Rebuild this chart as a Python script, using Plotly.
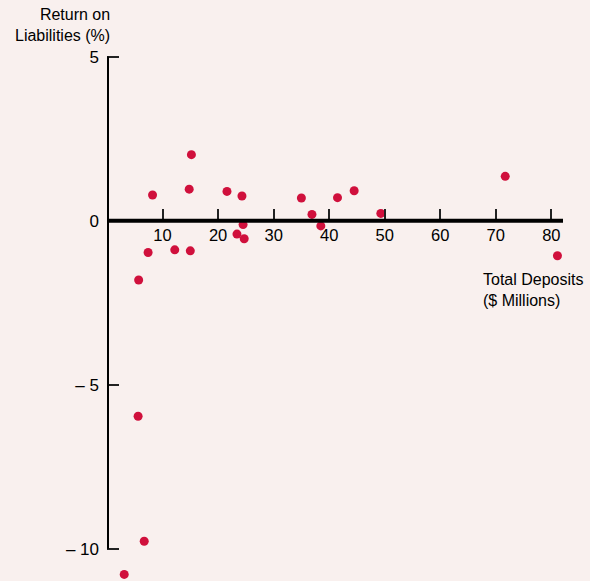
import plotly.graph_objects as go

# ---- data ----
deposits = [8.2, 24.3, 35.0, 41.5, 36.9, 38.5, 24.5, 23.4, 24.7, 7.4, 12.2, 15.0,
            5.7, 15.2, 14.8, 21.6, 44.5, 49.3, 71.7, 81.1, 5.6, 6.7, 3.1]
returns = [0.78, 0.75, 0.69, 0.70, 0.19, -0.16, -0.12, -0.41, -0.55, -0.97, -0.89, -0.92,
           -1.81, 2.01, 0.96, 0.89, 0.91, 0.22, 1.35, -1.07, -5.96, -9.77, -10.78]

x_ticks = [10, 20, 30, 40, 50, 60, 70, 80]
x_ticklabels = [str(v) for v in x_ticks]
y_ticks = [5, 0, -5, -10]
y_ticklabels = ["5", "0", "\u2013 5", "\u2013 10"]

x_title = "Total Deposits<br>($ Millions)"
y_title = "Return on<br>Liabilities (%)"

# ---- layout geometry ----
W, H = 590, 581
ML, MR, MT, MB = 107, 27, 50, 1
PW, PH = W - ML - MR, H - MT - MB
X_RANGE = [0, 82.1]
Y_RANGE = [-10.95, 5.2]

BG = "#f9f0ee"
RED = "#d0103c"
FONT = "Liberation Sans, Arial, Helvetica, sans-serif"


def paper_x(px):
    return (px - ML) / PW


def paper_y(py):
    return (H - MB - py) / PH


zero_pos = (0 - Y_RANGE[0]) / (Y_RANGE[1] - Y_RANGE[0])

fig = go.Figure()
fig.add_trace(go.Scatter(
    x=deposits, y=returns, mode="markers",
    marker=dict(size=9, color=RED, line=dict(width=0)),
    cliponaxis=False, hoverinfo="x+y",
))

# axis lines
fig.add_shape(type="line", xref="x", yref="y", x0=0, x1=0,
              y0=min(y_ticks), y1=max(y_ticks), line=dict(color="black", width=4))
fig.add_shape(type="line", xref="x", yref="y", x0=0, x1=X_RANGE[1],
              y0=0, y1=0, line=dict(color="black", width=4))

annotations = [
    dict(text=y_title, xref="paper", yref="paper",
         x=paper_x(112), y=paper_y(25), xanchor="right", yanchor="middle",
         align="right", showarrow=False,
         font=dict(family=FONT, size=16, color="black")),
    dict(text=x_title, xref="paper", yref="paper",
         x=paper_x(481), y=paper_y(290), xanchor="left", yanchor="middle",
         align="left", showarrow=False,
         font=dict(family=FONT, size=16, color="black")),
]

fig.update_layout(
    width=W, height=H,
    margin=dict(l=ML, r=MR, t=MT, b=MB, pad=0),
    paper_bgcolor=BG, plot_bgcolor=BG,
    showlegend=False,
    font=dict(family=FONT, size=16, color="black"),
    annotations=annotations,
    xaxis=dict(range=X_RANGE, anchor="free", position=zero_pos,
               tickvals=x_ticks, ticktext=x_ticklabels,
               ticks="inside", ticklen=12, tickwidth=1.5, tickcolor="#222",
               showline=False, showgrid=False, zeroline=False,
               tickfont=dict(family=FONT, size=16.5, color="black"),
               ticklabelstandoff=3),
    yaxis=dict(range=Y_RANGE, tickvals=y_ticks, ticktext=y_ticklabels,
               ticks="inside", ticklen=12, tickwidth=1.5, tickcolor="#222",
               showline=False, showgrid=False, zeroline=False,
               tickfont=dict(family=FONT, size=17, color="black"),
               ticklabelstandoff=7),
)

fig.write_html("out.html", config={"displayModeBar": False},
               post_script="document.body.style.margin='0';")
